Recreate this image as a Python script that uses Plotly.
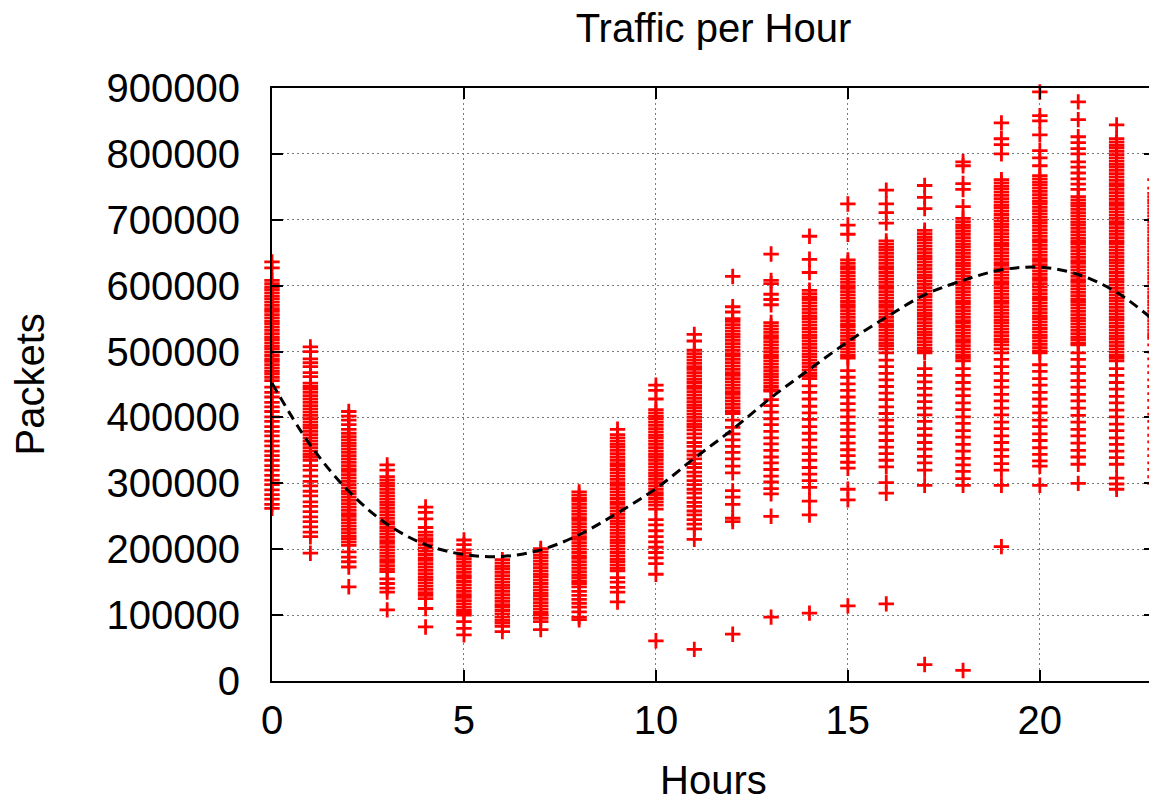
import plotly.graph_objects as go

# ---- data (packets, in thousands) ----
hours = list(range(24))

p00 = [636, 627, 608, 603, 598, 594, 589, 584, 580, 575, 570, 565, 561, 556, 551, 546, 542, 537, 532, 527,
       522, 518, 513, 508, 504, 499, 494, 489, 485, 480, 475, 470, 466, 461, 456, 446, 438, 431, 423, 416,
       409, 401, 394, 386, 379, 372, 364, 357, 349, 342, 335, 327, 320, 312, 305, 298, 290, 283, 276, 268, 262]
p01 = [507, 500, 489, 483, 477, 468, 462, 452, 447, 443, 438, 433, 428, 423, 418, 413, 408, 403, 398, 393,
       388, 384, 379, 374, 369, 364, 359, 354, 349, 344, 340, 335, 327, 320, 311, 303, 296, 288, 281, 272,
       265, 257, 249, 242, 234, 226, 219, 194]
p02 = [409, 402, 396, 389, 382, 376, 371, 366, 361, 357, 352, 347, 342, 337, 332, 327, 322, 318, 313, 308,
       303, 298, 293, 288, 284, 279, 274, 269, 264, 259, 254, 250, 245, 240, 235, 230, 225, 220, 216, 211,
       206, 196, 188, 181, 173, 143]
p03 = [328, 320, 310, 305, 300, 296, 291, 286, 281, 276, 271, 267, 262, 257, 252, 247, 242, 238, 233, 228,
       223, 218, 213, 209, 204, 199, 194, 189, 184, 180, 175, 170, 166, 155, 148, 141, 135, 108]
p04 = [264, 256, 246, 233, 226, 221, 216, 212, 207, 202, 197, 192, 187, 183, 178, 173, 168, 163, 158, 154,
       149, 144, 139, 134, 130, 125, 110, 82]
p05 = [214, 207, 199, 194, 189, 185, 180, 175, 170, 165, 160, 156, 151, 146, 141, 136, 131, 127, 122, 117,
       112, 107, 103, 100, 90, 80, 70]
p06 = [184, 179, 174, 170, 165, 160, 155, 150, 145, 141, 136, 131, 126, 121, 116, 112, 107, 102, 97, 92,
       88, 83, 75]
p07 = [201, 196, 191, 187, 182, 177, 172, 167, 162, 158, 153, 148, 143, 138, 133, 129, 124, 119, 114, 109,
       104, 100, 95, 90, 78]
p08 = [287, 282, 277, 273, 268, 263, 258, 253, 248, 244, 239, 234, 229, 224, 219, 215, 210, 205, 200, 195,
       190, 186, 181, 176, 171, 166, 161, 157, 152, 148, 143, 136, 130, 124, 118, 112, 105, 97, 93]
p09 = [382, 374, 369, 364, 359, 355, 350, 345, 340, 335, 330, 326, 321, 316, 311, 306, 301, 297, 292, 287,
       282, 277, 272, 268, 263, 258, 253, 248, 243, 239, 234, 229, 224, 219, 214, 210, 205, 200, 195, 190,
       185, 181, 176, 171, 167, 157, 150, 142, 135, 120]
p10 = [449, 441, 428, 412, 407, 402, 398, 393, 388, 383, 378, 373, 369, 364, 359, 354, 349, 344, 340, 335,
       330, 325, 320, 315, 311, 306, 301, 296, 291, 286, 282, 277, 272, 267, 261, 245, 237, 228, 219, 211,
       203, 195, 187, 178, 162, 61]
p11 = [526, 516, 502, 497, 492, 487, 482, 477, 473, 468, 463, 458, 453, 448, 444, 439, 434, 429, 424, 419,
       415, 410, 405, 400, 395, 390, 386, 381, 375, 369, 362, 356, 349, 343, 337, 330, 324, 317, 311, 304,
       298, 291, 285, 278, 271, 265, 258, 252, 245, 238, 231, 215, 48]
p12 = [614, 568, 560, 550, 546, 541, 536, 531, 526, 522, 517, 512, 507, 502, 497, 493, 488, 483, 478, 473,
       468, 464, 459, 454, 449, 444, 439, 435, 430, 425, 420, 415, 410, 406, 396, 385, 375, 366, 356, 347,
       337, 326, 316, 289, 279, 268, 247, 242, 71]
p13 = [648, 608, 603, 587, 579, 571, 544, 539, 534, 529, 524, 520, 515, 510, 505, 500, 495, 491, 486, 481,
       476, 471, 466, 462, 457, 452, 447, 442, 440, 427, 418, 408, 398, 389, 379, 369, 360, 350, 340, 331,
       321, 311, 302, 292, 284, 250, 97]
p14 = [675, 640, 620, 593, 588, 583, 579, 574, 569, 564, 559, 554, 550, 545, 540, 535, 530, 525, 521, 516,
       511, 506, 501, 496, 492, 487, 482, 477, 472, 467, 463, 459, 448, 438, 428, 417, 407, 397, 386, 376,
       366, 355, 345, 335, 324, 314, 304, 294, 273, 252, 103]
p15 = [724, 692, 678, 639, 634, 629, 625, 620, 615, 610, 605, 600, 596, 591, 586, 581, 576, 571, 567, 562,
       557, 552, 547, 542, 538, 533, 528, 523, 518, 513, 509, 504, 499, 494, 490, 471, 461, 451, 441, 431,
       421, 411, 401, 391, 381, 371, 361, 351, 342, 332, 323, 291, 275, 114]
p16 = [745, 724, 711, 695, 668, 663, 658, 654, 649, 644, 639, 634, 629, 625, 620, 615, 610, 605, 600, 596,
       591, 586, 581, 576, 571, 567, 562, 557, 552, 547, 542, 538, 533, 528, 523, 518, 513, 509, 504, 498,
       487, 477, 467, 457, 447, 437, 427, 416, 406, 396, 386, 376, 365, 355, 345, 335, 325, 301, 285, 117]
p17 = [752, 734, 717, 684, 679, 674, 670, 665, 660, 655, 650, 645, 641, 636, 631, 626, 621, 616, 612, 607,
       602, 597, 592, 587, 583, 578, 573, 568, 563, 558, 554, 549, 544, 539, 534, 529, 525, 520, 515, 510,
       505, 501, 498, 474, 464, 454, 444, 434, 424, 414, 404, 394, 383, 373, 362, 352, 341, 331, 320, 297, 25]
p18 = [788, 782, 755, 746, 720, 702, 697, 692, 688, 683, 678, 673, 668, 663, 659, 654, 649, 644, 639, 634,
       630, 625, 620, 615, 610, 605, 601, 596, 591, 586, 581, 576, 572, 567, 562, 557, 552, 547, 543, 538,
       533, 528, 523, 518, 514, 509, 504, 499, 494, 490, 486, 474, 464, 453, 443, 433, 422, 412, 401, 391,
       380, 370, 359, 349, 338, 328, 318, 307, 297, 16]
p19 = [847, 823, 814, 800, 761, 756, 751, 747, 742, 737, 732, 727, 722, 718, 713, 708, 703, 698, 693, 689,
       684, 679, 674, 669, 664, 660, 655, 650, 645, 640, 635, 631, 626, 621, 616, 611, 606, 602, 597, 592,
       587, 582, 577, 573, 568, 563, 558, 553, 548, 544, 539, 534, 529, 524, 519, 515, 510, 504, 498, 488,
       477, 467, 456, 446, 435, 425, 414, 404, 393, 383, 372, 362, 351, 341, 330, 320, 297, 204]
p20 = [894, 858, 850, 829, 805, 794, 782, 767, 762, 757, 753, 748, 743, 738, 733, 728, 724, 719, 714, 709,
       704, 699, 695, 690, 685, 680, 675, 670, 666, 661, 656, 651, 646, 641, 637, 632, 627, 622, 617, 612,
       608, 603, 598, 593, 588, 583, 579, 574, 569, 564, 559, 554, 550, 545, 540, 535, 530, 525, 521, 516,
       511, 506, 501, 498, 480, 470, 459, 449, 438, 428, 417, 407, 396, 386, 375, 365, 354, 344, 334, 326, 297]
p21 = [879, 852, 826, 817, 808, 800, 788, 780, 771, 762, 754, 746, 735, 730, 725, 721, 716, 711, 706, 701,
       696, 692, 687, 682, 677, 672, 667, 663, 658, 653, 648, 643, 638, 634, 629, 624, 619, 614, 609, 605,
       600, 595, 590, 585, 580, 576, 571, 566, 561, 556, 551, 547, 542, 537, 532, 527, 522, 518, 513, 510,
       498, 488, 477, 467, 456, 446, 435, 425, 414, 403, 393, 382, 372, 361, 350, 340, 329, 300]
p22 = [844, 823, 818, 813, 809, 804, 799, 794, 789, 784, 780, 775, 770, 765, 760, 755, 751, 746, 741, 736,
       731, 726, 722, 717, 712, 707, 702, 697, 693, 688, 683, 678, 673, 668, 664, 659, 654, 649, 644, 639,
       635, 630, 625, 620, 615, 610, 606, 601, 596, 591, 586, 581, 577, 572, 567, 562, 557, 552, 548, 543,
       538, 533, 528, 523, 519, 514, 509, 504, 499, 494, 490, 486, 474, 464, 453, 443, 432, 422, 411, 401,
       390, 380, 369, 359, 349, 339, 329, 308, 299, 291]
p23 = [761, 748, 740, 735, 730, 726, 721, 716, 711, 706, 701, 697, 692, 687, 682, 677, 672, 668, 663, 658,
       653, 648, 643, 639, 634, 629, 624, 619, 614, 610, 605, 600, 595, 590, 585, 581, 576, 571, 566, 561,
       556, 552, 547, 542, 537, 532, 527, 523, 520, 510, 499, 489, 478, 468, 457, 447, 436, 426, 415, 405,
       394, 384, 373, 363, 352, 342, 331, 321, 310, 300]

columns = [p00, p01, p02, p03, p04, p05, p06, p07, p08, p09, p10, p11,
           p12, p13, p14, p15, p16, p17, p18, p19, p20, p21, p22, p23]

# fitted curve, packets
curve_hours = list(range(24))
curve_packets = [452000, 358000, 288000, 238000, 207000, 192000, 189000, 199000, 222000, 255000,
                 292000, 338000, 382000, 430000, 473000, 515000, 552000, 586000, 608000, 624000,
                 628000, 617000, 590000, 546000]

x_ticks = [0, 5, 10, 15, 20]
y_ticks = [0, 100000, 200000, 300000, 400000, 500000, 600000, 700000, 800000, 900000]

# ---- build figure ----
xs, ys = [], []
for h, col in zip(hours, columns):
    xs.extend([h] * len(col))
    ys.extend([v * 1000 for v in col])

FONT = "Liberation Sans, Arial, Helvetica, sans-serif"

fig = go.Figure()
fig.add_trace(go.Scatter(
    x=xs, y=ys, mode="markers",
    marker=dict(symbol="cross-thin", size=11, color="#ff0000",
                line=dict(color="#ff0000", width=2.8)),
    showlegend=False, cliponaxis=False,
))
fig.add_trace(go.Scatter(
    x=curve_hours, y=curve_packets, mode="lines",
    line=dict(color="black", width=3, dash="10px,6px", shape="spline", smoothing=1.0),
    showlegend=False,
))

axis_common = dict(
    showline=True, linecolor="black", linewidth=2, mirror="ticks",
    ticks="inside", ticklen=11, tickwidth=2, tickcolor="black",
    showgrid=True, gridcolor="#7a7a7a", gridwidth=1, griddash="2px,3px",
    zeroline=False,
    tickfont=dict(family=FONT, size=40, color="black"),
)

fig.update_xaxes(range=[0, 23], tickvals=x_ticks, ticktext=[str(v) for v in x_ticks],
                 ticklabelstandoff=3, **axis_common)
fig.update_yaxes(range=[0, 900000], tickvals=y_ticks, ticktext=[str(v) for v in y_ticks],
                 ticklabelstandoff=22, **axis_common)

# the page adds an 8px body margin, so the figure is 8px smaller than the window
fig.update_layout(
    width=1149, height=798,
    margin=dict(l=264, r=0, t=80, b=125),
    paper_bgcolor="white", plot_bgcolor="white",
    font=dict(family=FONT, color="black"),
    title=dict(text="Traffic per Hour", x=0.5, xref="paper", xanchor="center",
               y=1 - 20 / 798, yref="container", yanchor="middle",
               font=dict(family=FONT, size=40, color="black")),
    annotations=[
        dict(text="Hours", xref="paper", yref="paper", x=0.5, y=0, yshift=-99,
             xanchor="center", yanchor="middle", showarrow=False,
             font=dict(family=FONT, size=40, color="black")),
        dict(text="Packets", xref="paper", yref="paper", x=0, y=0.5, xshift=-243,
             xanchor="center", yanchor="middle", textangle=-90, showarrow=False,
             font=dict(family=FONT, size=40, color="black")),
    ],
)

fig.write_html("out.html")
